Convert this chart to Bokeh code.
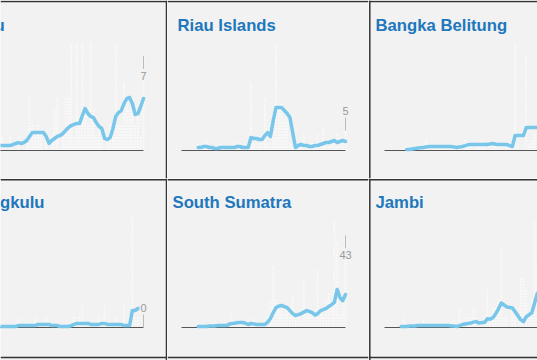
import numpy as np
from bokeh.plotting import figure
from bokeh.layouts import row, column
from bokeh.models import Range1d, Span, Label, ColumnDataSource
from bokeh.embed import file_html
from bokeh.resources import INLINE

# ---------------- data ----------------
days = list(range(60))
N = None

provinces = ["Riau", "Riau Islands", "Bangka Belitung", "Bengkulu", "South Sumatra", "Jambi"]

riau_daily = [0, 0, 1, 0, 0, 1, 0, 0, 1, 0, 0, 1, 0, 0, 1, 0, 0, 1, 4, 2,
              1, 2, 1, 0, 1, 0, 1, 3, 4, 0, 1, 4, 4, 8, 1, 8, 2, 8, 3, 2,
              8, 3, 1, 2, 1, 0, 1, 2, 1, 8, 2, 2, 5, 4, 3, 4, 2, 3, 1, 7]
riau_avg = [0.3, 0.3, 0.37, 0.37, 0.37, 0.37, 0.37, 0.37, 0.37, 0.37,
            0.37, 0.37, 0.44, 0.52, 0.59, 0.52, 0.59, 0.74, 1.04, 1.33,
            1.33, 1.33, 1.33, 1.33, 1.04, 0.52, 0.74, 0.89, 1.04, 1.11,
            1.26, 1.48, 1.7, 1.85, 1.93, 2.0, 2.0, 2.59, 3.11, 2.74,
            2.52, 2.44, 2.07, 1.78, 1.63, 0.89, 0.81, 0.96, 1.63, 2.52,
            2.81, 2.96, 3.48, 3.85, 3.93, 3.48, 2.67, 2.74, 3.26, 3.85]

riau_islands_daily = [0, 0, 0, 0, 0, 0, 2, 1, 1, 3, 1, 0, 0, 1, 2, 1, 1, 0, 1, 2,
                      1, 2, 1, 0, 1, 17, 2, 1, 2, 3, 13, 2, 1, 9, 27, 10, 12, 8, 7, 2,
                      1, 0, 1, 2, 4, 1, 1, 2, 2, 4, 1, 6, 3, 2, 3, 2, 4, 3, 2, 5]
riau_islands_avg = [N, N, N, N, N, N,
                    0.75, 0.75, 1, 1, 0.75, 0.75, 0.5, 0.5, 0.75, 0.75,
                    0.75, 0.75, 0.75, 0.75, 1, 1, 0.75, 0.75, 0.75, 3.25,
                    3, 3, 2.75, 2.75, 3.75, 4.5, 3.5, 7.5, 10.75, 10.75,
                    10.75, 10, 9.25, 8.25, 4.5, 0.75, 1.25, 1.5, 1.25, 1.25,
                    1, 1, 1.25, 1.25, 1.5, 1.75, 2, 2, 2.25, 2.5,
                    2, 2.25, 2.5, 2.25]

bangka_daily = [0, 0, 0, 0, 0, 0, 0, 0, 1, 0, 0, 1, 0, 1, 0, 2, 0, 0, 1, 0,
                1, 0, 1, 0, 1, 0, 0, 1, 0, 2, 1, 1, 0, 1, 1, 2, 1, 0, 1, 1,
                1, 1, 1, 0, 1, 1, 0, 18, 1, 0, 0, 16, 1, 2, 3, 1, 2, 3, 1, 2]
bangka_avg = [N, N, N, N, N, N, N, N,
              0.17, 0.17, 0.25, 0.33, 0.4, 0.45, 0.5, 0.6, 0.67, 0.67, 0.67, 0.67,
              0.67, 0.67, 0.67, 0.67, 0.67, 0.6, 0.5, 0.6, 0.67, 0.8,
              0.95, 1.0, 1.0, 1.0, 1.0, 1.0, 1.0, 1.0, 1.1, 1.17,
              1.05, 1.0, 1.0, 1.0, 1.0, 0.83, 0.67, 2.5, 2.5, 2.5,
              2.5, 3.83, 3.83, 3.83, 3.83, 3.83, 3.9, 4.0, 4.0, 4.0]

bengkulu_daily = [0, 0, 0, 0, 0, 1, 0, 0, 0, 0, 0, 0, 0, 0, 1, 0, 0, 0, 0, 0,
                  1, 0, 0, 0, 1, 0, 0, 0, 0, 0, 0, 0, 0, 0, 1, 0, 1, 2, 0, 0,
                  0, 0, 0, 1, 0, 2, 0, 0, 0, 1, 0, 0, 2, 0, 0, 10, 1, 1, 0, 0]
bengkulu_avg = [0.09, 0.09, 0.09, 0.09, 0.09, 0.09, 0.09, 0.09, 0.09, 0.09,
                0.09, 0.09, 0.09, 0.09, 0.18, 0.18, 0.18, 0.18, 0.18, 0.18,
                0.18, 0.28, 0.28, 0.28, 0.28, 0.28, 0.18, 0.18, 0.18, 0.09,
                0.09, 0.09, 0.09, 0.18, 0.28, 0.37, 0.37, 0.37, 0.37, 0.37,
                0.28, 0.28, 0.28, 0.28, 0.37, 0.37, 0.28, 0.28, 0.28, 0.28,
                0.28, 0.28, 0.18, 0.18, 0.18, 1.56, 1.56, 1.74, 1.74, 1.74]

south_sumatra_daily = [0, 0, 0, 0, 0, 0, 1, 0, 1, 0, 1, 0, 1, 2, 1, 0, 2, 1, 6, 2,
                       3, 2, 1, 2, 1, 1, 5, 0, 1, 2, 3, 5, 12, 29, 14, 10, 8, 7, 9, 6,
                       15, 4, 5, 3, 22, 6, 8, 5, 4, 28, 9, 7, 12, 16, 10, 50, 40, 6, 12, 43]
south_sumatra_avg = [N, N, N, N, N, N,
                     0.5, 0.5, 0.5, 0.5, 0.7, 0.7, 0.7, 0.9, 0.9, 0.9,
                     0.9, 1.4, 1.9, 2.0, 2.2, 2.3, 2.3, 2.0, 1.4, 1.9,
                     1.7, 1.4, 1.4, 1.4, 1.4, 2.5, 4.2, 7.0, 9.3, 10.0,
                     10.3, 9.8, 9.3, 7.9, 6.5, 5.6, 6.0, 6.5, 7.2, 7.9,
                     7.5, 7.0, 5.8, 6.5, 7.9, 8.4, 8.9, 9.8, 10.7, 11.7,
                     17.8, 14.0, 12.5, 15.4]

jambi_daily = [0, 0, 0, 0, 0, 0, 0, 1, 0, 0, 0, 0, 0, 0, 1, 0, 0, 0, 0, 0,
               0, 0, 0, 0, 0, 1, 0, 2, 0, 0, 1, 1, 2, 1, 0, 0, 1, 4, 1, 2,
               2, 3, 8, 1, 1, 0, 2, 1, 0, 5, 5, 4, 1, 3, 11, 7, 2, 4, 3, 5]
jambi_avg = [N, N, N, N, N, N,
             0.1, 0.1, 0.1, 0.15, 0.15, 0.15, 0.2, 0.2, 0.2, 0.2,
             0.2, 0.2, 0.2, 0.2, 0.2, 0.2, 0.2, 0.2, 0.15, 0.15,
             0.1, 0.2, 0.3, 0.35, 0.4, 0.45, 0.55, 0.6, 0.45, 0.5,
             0.5, 0.9, 0.85, 1.0, 1.4, 1.9, 2.5, 2.3, 2.1, 2.05,
             2.0, 1.6, 1.2, 0.8, 0.6, 1.1, 1.3, 1.5, 2.5, 3.5,
             3.6, 3.8, 3.7, 3.9]

daily_series = [riau_daily, riau_islands_daily, bangka_daily,
                bengkulu_daily, south_sumatra_daily, jambi_daily]
avg_series = [riau_avg, riau_islands_avg, bangka_avg,
              bengkulu_avg, south_sumatra_avg, jambi_avg]

# ---------------- layout (picture pixels) ----------------
PX_DAY = 164 / 59
PLOT_H = 108
cols = [dict(x0=0, w=167, L=-21), dict(x0=167, w=201, L=181), dict(x0=368, w=169, L=384)]
rows = [dict(y0=0, h=178, B=150, ty=25), dict(y0=178, h=182, B=327, ty=202)]
px_per_case = [13.5, 4.0, 6.0, 10.9, 2.14, 9.8]
title_px = [-32, 177, 375, -32, 172, 375]

BG = "#f2f2f2"
TITLE_C = "#2077bd"
LINE_C = "#78c6ea"
BORDER_C = "#333333"

figs = []
for i, name in enumerate(provinces):
    c = cols[i % 3]
    r = rows[i // 3]
    k = px_per_case[i]
    L, B = c["L"], r["B"]
    px2x = lambda px: (px - L) / PX_DAY
    py2y = lambda py: (B - py) / k

    p = figure(width=c["w"], height=r["h"],
               x_range=Range1d(px2x(c["x0"]), px2x(c["x0"] + c["w"])),
               y_range=Range1d(py2y(r["y0"] + r["h"]), py2y(r["y0"])),
               output_backend="svg", toolbar_location=None, tools="",
               min_border=0, x_axis_location=None, y_axis_location=None)
    p.grid.visible = False
    p.outline_line_color = None
    p.background_fill_color = BG
    p.border_fill_color = BG

    daily = np.array(daily_series[i], dtype=float)
    avg = np.array(avg_series[i], dtype=float)
    src = ColumnDataSource(dict(day=days, daily=daily, avg=avg))

    # daily bars: dotted white strokes
    p.segment(x0="day", y0=0, x1="day", y1="daily", source=src,
              line_color="white", line_width=2, line_dash="1 2")
    # baseline
    p.segment(x0=days[0], y0=0, x1=days[-1], y1=0, line_color="#555555", line_width=1.2)
    # 7-day average
    p.line(x="day", y="avg", source=src, line_color=LINE_C, line_width=3.5,
           line_join="round", line_cap="round")

    # last-value label with connector (only when it falls inside the visible cell)
    last_d = days[-1]
    last_v = daily_series[i][-1]
    label_px = L + last_d * PX_DAY
    if label_px + 8 < c["x0"] + c["w"]:
        hpx = last_v * k
        sign = 1 if hpx + 30 <= PLOT_H else -1
        p.segment(x0=last_d, y0=last_v, x1=last_d, y1=last_v + sign * 13 / k,
                  line_color="#bbbbbb", line_width=1)
        p.add_layout(Label(x=last_d, y=last_v + sign * 20 / k, text=str(last_v),
                           text_align="center", text_baseline="middle",
                           text_font="Liberation Sans", text_font_size="11px",
                           text_color="#999999", background_fill_color=BG,
                           padding=1))

    # panel title
    p.add_layout(Label(x=px2x(title_px[i]), y=py2y(r["ty"]), text=name,
                       text_align="left", text_baseline="alphabetic",
                       text_font="Liberation Sans", text_font_style="bold",
                       text_font_size="16.7px", text_color=TITLE_C))

    # cell borders
    if i // 3 == 0:
        p.add_layout(Span(location=py2y(1), dimension="width",
                          line_color=BORDER_C, line_width=1.5))
    if i % 3 == 0:
        p.add_layout(Span(location=px2x(166), dimension="height",
                          line_color=BORDER_C, line_width=1.5))
    if i % 3 == 2:
        p.add_layout(Span(location=px2x(369.3), dimension="height",
                          line_color=BORDER_C, line_width=1.5))
    if i // 3 == 1:
        p.add_layout(Span(location=py2y(179.3), dimension="width",
                          line_color=BORDER_C, line_width=1.5))
        p.add_layout(Span(location=py2y(357), dimension="width",
                          line_color=BORDER_C, line_width=1.5))
    figs.append(p)

layout = column(row(*figs[:3]), row(*figs[3:]))
open("out.html", "w").write(file_html(layout, INLINE))
